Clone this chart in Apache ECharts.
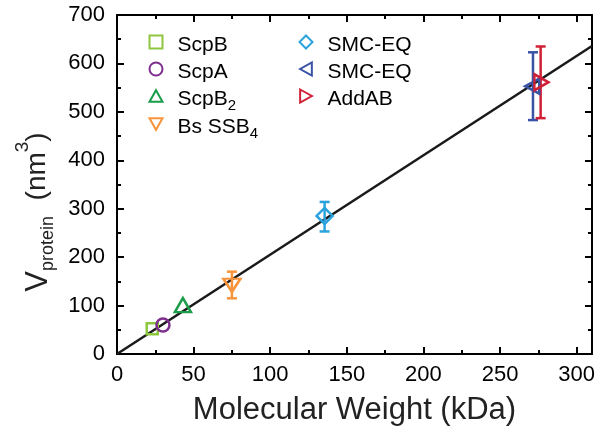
<!DOCTYPE html>
<html>
<head>
<meta charset="utf-8">
<script src="https://cdn.jsdelivr.net/npm/echarts@6/dist/echarts.min.js"></script>
<style>
  html, body { margin: 0; padding: 0; background: #fff; }
  #main { width: 598px; height: 434px; }
</style>
</head>
<body>
<div id="main"></div>
<script>
// data: [kDa, nm^3]
var scpB = [[23, 52]];
var scpA = [[30, 60]];
var scpB2 = [[43, 101]];
var bsSSB4 = [[75, 142]];
var bsSSB4Err = [[75, 115, 170]];
var smcEqA = [[135.5, 285]];
var smcEqAErr = [[135.5, 253, 314]];
var smcEqB = [[271, 553]];
var smcEqBErr = [[271.5, 483, 623]];
var addAB = [[277, 561]];
var addABErr = [[276.5, 487, 635]];
// fit line
var fitLine = [[0, 0], [310, 636]];

var xMajor = [0, 50, 100, 150, 200, 250, 300];
var xMinor = [25, 75, 125, 175, 225, 275];

var FONT = 'Liberation Sans, Arial, Helvetica, sans-serif';

// triangle shapes (same in plot and legend)
var TRI_UP = 'path://M5,0 L10,9 L0,9 Z';
var TRI_DOWN = 'path://M0,0 L10,0 L5,9 Z';
var TRI_LEFT = 'path://M9,0 L9,10 L0,5 Z';
var TRI_RIGHT = 'path://M0,0 L9,5 L0,10 Z';

var myChart = echarts.init(document.getElementById('main'));

// hollow marker series
function marker(name, data, symbol, size, color) {
  return {
    name: name,
    type: 'scatter',
    data: data,
    symbol: symbol,
    symbolSize: size,
    z: 4,
    itemStyle: {
      color: 'rgba(255,255,255,0)',
      borderColor: color,
      borderWidth: 2.5,
      opacity: 1
    }
  };
}

// vertical error bar with caps
function errBar(data, color) {
  return {
    type: 'custom',
    data: data,
    z: 3,
    encode: { x: 0, y: [1, 2] },
    renderItem: function(params, api) {
      var x = api.value(0);
      var lo = api.coord([x, api.value(1)]);
      var hi = api.coord([x, api.value(2)]);
      var w = 5;
      var st = { stroke: color, lineWidth: 2.5 };
      return {
        type: 'group',
        children: [
          { type: 'line', shape: { x1: lo[0], y1: lo[1], x2: hi[0], y2: hi[1] }, style: st },
          { type: 'line', shape: { x1: lo[0] - w, y1: lo[1], x2: lo[0] + w, y2: lo[1] }, style: st },
          { type: 'line', shape: { x1: hi[0] - w, y1: hi[1], x2: hi[0] + w, y2: hi[1] }, style: st }
        ]
      };
    }
  };
}

var legendRich = {
  f: { fontSize: 21, lineHeight: 21, padding: [3, 0, 3, 10], verticalAlign: 'top', color: '#000', fontFamily: FONT },
  s: { fontSize: 15, lineHeight: 14, padding: [13, 0, 0, 0], verticalAlign: 'top', color: '#000', fontFamily: FONT }
};

function legendFmt(name) {
  var parts = name.trim().split('_');
  var s = '{f|' + parts[0] + '}';
  if (parts[1]) s += '{s|' + parts[1] + '}';
  return s;
}

function legendCol(left, names) {
  return {
    orient: 'vertical',
    left: left,
    top: 31.5,
    padding: 0,
    itemGap: 0,
    itemWidth: 13,
    itemHeight: 13,
    data: names,
    formatter: legendFmt,
    textStyle: { rich: legendRich }
  };
}

var axisLine = { show: true, onZero: false, lineStyle: { color: '#000', width: 2 } };
var noLine = { show: false, onZero: false };
var tickStyle = { color: '#000', width: 2 };

var option = {
  backgroundColor: '#fff',
  animation: false,
  grid: { left: 117, right: 5, top: 15, bottom: 80 },
  legend: [
    legendCol(148.5, ['ScpB', 'ScpA', 'ScpB_2', 'Bs SSB_4']),
    legendCol(298.5, ['SMC-EQ', 'SMC-EQ ', 'AddAB'])
  ],
  xAxis: [{
    type: 'value', position: 'bottom', min: 0, max: 310,
    axisLine: axisLine,
    axisTick: { inside: true, length: 7, customValues: xMajor, lineStyle: tickStyle },
    axisLabel: { customValues: xMajor, fontSize: 22, color: '#000', margin: 10, fontFamily: FONT },
    splitLine: { show: false },
    name: 'Molecular Weight (kDa)',
    nameLocation: 'middle',
    nameGap: 41,
    nameTextStyle: { fontSize: 31, color: '#222', fontFamily: FONT }
  }, {
    type: 'value', position: 'bottom', min: 0, max: 310,
    axisLine: noLine,
    axisTick: { inside: true, length: 4, customValues: xMinor, lineStyle: tickStyle },
    axisLabel: { show: false },
    splitLine: { show: false }
  }, {
    type: 'value', position: 'top', min: 0, max: 310,
    axisLine: axisLine,
    axisTick: { inside: true, length: 7, customValues: xMajor, lineStyle: tickStyle },
    axisLabel: { show: false },
    splitLine: { show: false }
  }, {
    type: 'value', position: 'top', min: 0, max: 310,
    axisLine: noLine,
    axisTick: { inside: true, length: 4, customValues: xMinor, lineStyle: tickStyle },
    axisLabel: { show: false },
    splitLine: { show: false }
  }],
  yAxis: [{
    type: 'value', position: 'left', min: 0, max: 700, interval: 100,
    axisLine: axisLine,
    axisTick: { inside: true, length: 7, lineStyle: tickStyle },
    minorTick: { show: true, splitNumber: 2, length: 4, lineStyle: tickStyle },
    axisLabel: { fontSize: 22, color: '#000', margin: 12, fontFamily: FONT },
    splitLine: { show: false },
    name: '{v|V}{p|protein}{g|  (nm}{e|3}{g|)}',
    nameLocation: 'middle',
    nameRotate: 90,
    nameGap: 63,
    nameTextStyle: {
      padding: [0, 55, 0, 0],
      rich: {
        v: { fontSize: 31, lineHeight: 30, padding: [10, 0, 0, 0], verticalAlign: 'top', color: '#222', fontFamily: FONT },
        g: { fontSize: 28, lineHeight: 30, padding: [10, 0, 0, 0], verticalAlign: 'top', color: '#222', fontFamily: FONT },
        p: { fontSize: 18, lineHeight: 18, padding: [26, 0, 0, 0], verticalAlign: 'top', color: '#222', fontFamily: FONT },
        e: { fontSize: 19, lineHeight: 20, padding: [0, 0, 0, 0], verticalAlign: 'top', color: '#222', fontFamily: FONT }
      }
    }
  }, {
    type: 'value', position: 'right', min: 0, max: 700, interval: 100,
    axisLine: axisLine,
    axisTick: { inside: true, length: 7, lineStyle: tickStyle },
    minorTick: { show: true, splitNumber: 2, length: 4, lineStyle: tickStyle },
    axisLabel: { show: false },
    splitLine: { show: false }
  }],
  series: [
    {
      type: 'line',
      data: fitLine,
      symbol: 'none',
      z: 2,
      lineStyle: { color: '#1a1a1a', width: 2.5 }
    },
    errBar(bsSSB4Err, '#f7943c'),
    errBar(smcEqAErr, '#2aa3dd'),
    errBar(smcEqBErr, '#3a53a4'),
    errBar(addABErr, '#d11f36'),
    marker('ScpB', scpB, 'rect', 11, '#8dc63f'),
    marker('ScpA', scpA, 'circle', 13, '#7e2f8e'),
    marker('ScpB_2', scpB2, TRI_UP, [16, 14], '#1a9c4a'),
    marker('Bs SSB_4', bsSSB4, TRI_DOWN, [17, 13], '#f7943c'),
    marker('SMC-EQ', smcEqA, 'diamond', 16, '#2aa3dd'),
    marker('SMC-EQ ', smcEqB, TRI_LEFT, [14, 15], '#3a53a4'),
    marker('AddAB', addAB, TRI_RIGHT, [14, 16], '#d11f36')
  ]
};

myChart.setOption(option);
</script>
</body>
</html>
